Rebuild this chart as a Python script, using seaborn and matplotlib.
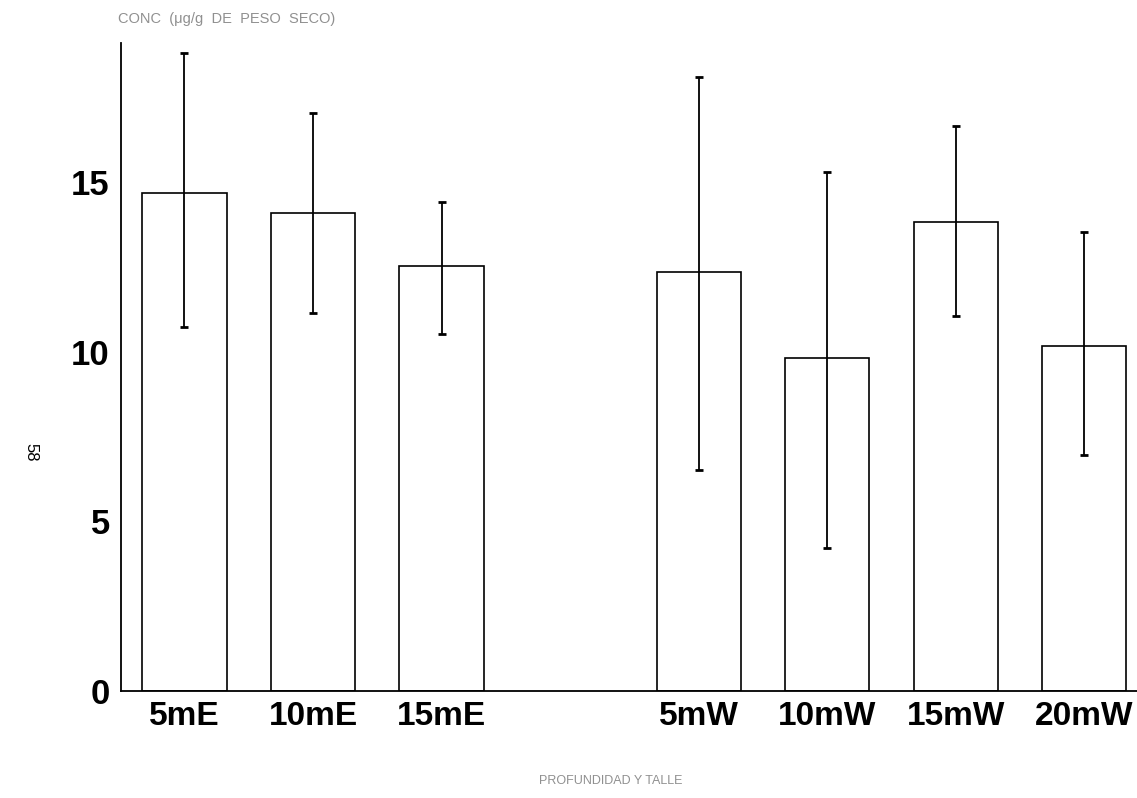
import pandas as pd
import seaborn as sns
import matplotlib.pyplot as plt

# Values
categories = ['5mE', '10mE', '15mE', '5mW', '10mW', '15mW', '20mW']
conc_mean = [14.69, 14.10, 12.54, 12.36, 9.82, 13.83, 10.18]
err_low = [10.74, 11.15, 10.53, 6.52, 4.22, 11.06, 6.96]
err_high = [18.82, 17.05, 14.42, 18.11, 15.31, 16.67, 13.54]

# empty slot between the E and W groups
order = ['5mE', '10mE', '15mE', '', '5mW', '10mW', '15mW', '20mW']
y_ticks = [0, 5, 10, 15]

df = pd.DataFrame({'grupo': categories, 'conc': conc_mean,
                   'low': err_low, 'high': err_high})

sns.set_style("white")
plt.rcParams['font.family'] = ['Liberation Sans', 'DejaVu Sans']

fig = plt.figure(figsize=(11.37, 7.98), dpi=100)
ax = fig.add_axes([0.1064, 0.134, 0.8936, 0.812])

sns.barplot(data=df, x='grupo', y='conc', order=order, errorbar=None,
            color='white', edgecolor='black', linewidth=1.2, width=0.655,
            ax=ax)

# error bars at the category positions
pos = [order.index(c) for c in df['grupo']]
ax.errorbar(pos, df['conc'],
            yerr=[df['conc'] - df['low'], df['high'] - df['conc']],
            fmt='none', ecolor='black', elinewidth=1.3, capsize=3,
            capthick=2)

ax.set_xlim(-0.494, 7.41)
ax.set_ylim(0, 19.1)
ax.set_yticks(y_ticks)
ax.set_yticklabels([str(t) for t in y_ticks], fontsize=25,
                   fontweight='bold', color='black')
ax.set_xticks(range(len(order)))
ax.set_xticklabels(order, fontsize=24, fontweight='bold', color='black')
ax.tick_params(axis='both', length=0)
ax.tick_params(axis='y', pad=8)
ax.tick_params(axis='x', pad=7)
ax.set_xlabel('')
ax.set_ylabel('')

for side in ['top', 'right']:
    ax.spines[side].set_visible(False)
for side in ['left', 'bottom']:
    ax.spines[side].set_color('black')
    ax.spines[side].set_linewidth(1.3)

fig.text(0.104, 0.985, 'CONC  (\u03bcg/g  DE  PESO  SECO)', fontsize=10.5,
         color='#909090', ha='left', va='top')
fig.text(0.537, 0.014, 'PROFUNDIDAD Y TALLE', fontsize=9,
         color='#909090', ha='center', va='bottom')
fig.text(0.027, 0.433, '58', fontsize=12, rotation=-90, color='black',
         ha='center', va='center')

fig.savefig('out.png', dpi=100, facecolor='white')
